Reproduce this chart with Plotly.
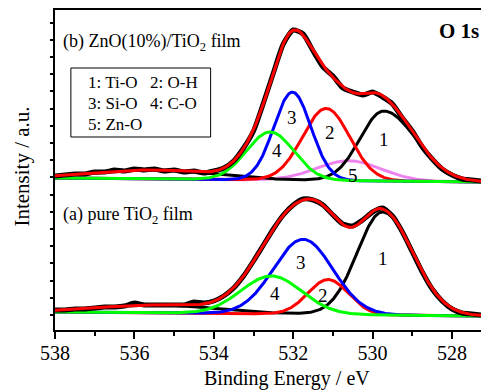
import numpy as np
import plotly.graph_objects as go

# ---------------- data ----------------
energy = [538.0, 537.75, 537.5, 537.25, 537.0, 536.75, 536.5, 536.25, 536.0, 535.75,
          535.5, 535.25, 535.0, 534.75, 534.5, 534.25, 534.0, 533.75, 533.5, 533.25,
          533.0, 532.75, 532.5, 532.25, 532.0, 531.75, 531.5, 531.25, 531.0, 530.75,
          530.5, 530.25, 530.0, 529.75, 529.5, 529.25, 529.0, 528.75, 528.5, 528.25,
          528.0, 527.75, 527.5, 527.25]

# (b) ZnO(10%)/TiO2 film, measured (offset upward)
data_b = [154, 155, 156, 156, 158, 158, 160, 159, 161, 160,
          161, 159, 160, 158, 159, 157, 159, 162, 169, 182,
          199, 227, 257, 286, 300, 296, 279, 263, 254, 242,
          238, 235, 238, 233, 226, 212, 199, 183, 171, 161,
          155, 151, 150, 149]

# (a) pure TiO2 film, measured
data_a = [20, 20, 21, 21, 22, 23, 23, 24, 27, 25,
          25, 25, 25, 25, 28, 27, 29, 34, 42, 54,
          69, 85, 101, 115, 125, 131, 130, 125, 115, 106,
          104, 110, 118, 122, 114, 98, 78, 58, 41, 29,
          21, 17, 16, 15]

# fitted components: 1 Ti-O, 2 O-H, 3 Si-O, 4 C-O, 5 Zn-O
comp_labels = ["1", "2", "3", "4", "5"]
comp_colors = ["#000000", "#ff0000", "#0000ff", "#00ff00", "#ee82ee"]

b_center = [529.72, 531.17, 532.02, 532.58, 530.60]
b_height = [70, 72, 88, 48, 20]
b_fwhm_hi = [1.4, 1.4, 1.1, 1.4, 1.9]
b_fwhm_lo = [1.9, 1.4, 1.1, 1.4, 1.9]
b_base = [152, 148]          # background at 538 eV and 527 eV
b_sat = [535.5, 9, 3.5]      # broad high-BE feature: centre, height, fwhm

a_center = [529.75, 531.12, 531.75, 532.55]
a_height = [103, 35, 75, 38]
a_fwhm_hi = [1.5, 1.2, 1.76, 1.8]
a_fwhm_lo = [1.8, 1.2, 1.76, 1.8]
a_base = [18, 14]
a_sat = [535.4, 8, 3.5]

legend_lines = [("1: Ti-O", "2: O-H"), ("3: Si-O", "4: C-O"), ("5: Zn-O", "")]

# ---------------- helpers ----------------
E = np.linspace(538.0, 527.2, 541)


def peak(c, h, fhi, flo):
    s = np.where(E >= c, fhi, flo) / 2.3548
    return h * np.exp(-(E - c) ** 2 / (2 * s ** 2))


def base(b):
    return b[1] + (b[0] - b[1]) * (E - 527.0) / 11.0


FONT = "Liberation Serif, Times New Roman, serif"
fig = go.Figure()


def add_spectrum(centers, heights, fhi, flo, bl, sat, data, order):
    bg = base(bl)
    satc = peak(sat[0], sat[1], sat[2], sat[2])
    comps = [peak(c, h, a, b) for c, h, a, b in zip(centers, heights, fhi, flo)]
    env = bg + satc + sum(comps)
    for i in order:
        y = bg + comps[i] + (satc if i == 0 else 0)
        fig.add_trace(go.Scatter(x=E, y=y, mode="lines",
                                 line=dict(color=comp_colors[i], width=3),
                                 showlegend=False, hoverinfo="skip"))
    fig.add_trace(go.Scatter(x=energy, y=data, mode="lines",
                             line=dict(color="black", width=5, shape="spline", smoothing=0.6),
                             showlegend=False))
    fig.add_trace(go.Scatter(x=E, y=env, mode="lines",
                             line=dict(color="#ff0000", width=3),
                             showlegend=False, hoverinfo="skip"))


add_spectrum(a_center, a_height, a_fwhm_hi, a_fwhm_lo, a_base, a_sat, data_a, [0, 1, 2, 3])
add_spectrum(b_center, b_height, b_fwhm_hi, b_fwhm_lo, b_base, b_sat, data_b, [4, 0, 1, 2, 3])

ann = []
# number labels
num_b = [(529.71, 191), (531.07, 198), (532.03, 213), (532.41, 180), (530.49, 155)]
num_a = [(529.74, 72), (531.25, 35), (531.80, 68), (532.46, 37)]
for i, (x, y) in enumerate(num_b):
    ann.append(dict(x=x, y=y, text=comp_labels[i], showarrow=False,
                    font=dict(family=FONT, size=19, color="black")))
for i, (x, y) in enumerate(num_a):
    ann.append(dict(x=x, y=y, text=comp_labels[i], showarrow=False,
                    font=dict(family=FONT, size=19, color="black")))

ann.append(dict(x=537.85, y=288, text="(b) ZnO(10%)/TiO<sub>2</sub> film", showarrow=False,
                xanchor="left", yanchor="middle", font=dict(family=FONT, size=18, color="black")))
ann.append(dict(x=537.85, y=115, text="(a) pure TiO<sub>2</sub> film", showarrow=False,
                xanchor="left", yanchor="middle", font=dict(family=FONT, size=18, color="black")))
ann.append(dict(xref="paper", yref="paper", x=1.0, y=0.935, text="<b>O 1s</b>", showarrow=False,
                xanchor="right", yanchor="middle", font=dict(family=FONT, size=21, color="black")))

# legend box text
rows_y = [248, 227, 206]
for (t1, t2), yy in zip(legend_lines, rows_y):
    ann.append(dict(x=537.22, y=yy, text=t1, showarrow=False, xanchor="left", yanchor="middle",
                    font=dict(family=FONT, size=17, color="black")))
    if t2:
        ann.append(dict(x=535.66, y=yy, text=t2, showarrow=False, xanchor="left", yanchor="middle",
                        font=dict(family=FONT, size=17, color="black")))

# axis titles
ann.append(dict(xref="paper", yref="paper", x=0.545, y=-0.152, text="Binding Energy / eV",
                showarrow=False, xanchor="center", yanchor="middle",
                font=dict(family=FONT, size=20, color="black")))
ann.append(dict(xref="paper", yref="paper", x=-0.078, y=0.51, text="Intensity / a.u.",
                textangle=-90, showarrow=False, xanchor="center", yanchor="middle",
                font=dict(family=FONT, size=21, color="black")))

fig.update_layout(
    width=481, height=390,
    margin=dict(l=55, r=0, t=10, b=60),
    paper_bgcolor="white", plot_bgcolor="white",
    annotations=ann,
    shapes=[dict(type="rect", xref="x", yref="y", x0=537.6, x1=534.08, y0=193, y1=262,
                 line=dict(color="black", width=1))],
    font=dict(family=FONT, size=20, color="black"),
)
fig.update_xaxes(range=[538, 527.27], showgrid=False, zeroline=False,
                 showline=True, linecolor="black", linewidth=2, mirror=True,
                 tickmode="array", tickvals=[538, 536, 534, 532, 530, 528],
                 ticks="outside", ticklen=7, tickwidth=1.5, tickcolor="black",
                 ticklabelstandoff=-3,
                 tickfont=dict(family=FONT, size=20, color="black"),
                 minor=dict(tickvals=[537, 535, 533, 531, 529], ticks="outside",
                            ticklen=4, tickwidth=1.5, tickcolor="black"))
fig.update_yaxes(range=[0, 320], showgrid=False, zeroline=False,
                 showline=True, linecolor="black", linewidth=2,
                 showticklabels=False, tick0=15, dtick=17.2,
                 ticks="outside", ticklen=3, tickwidth=1.5, tickcolor="black")

fig.write_html("out.html")
